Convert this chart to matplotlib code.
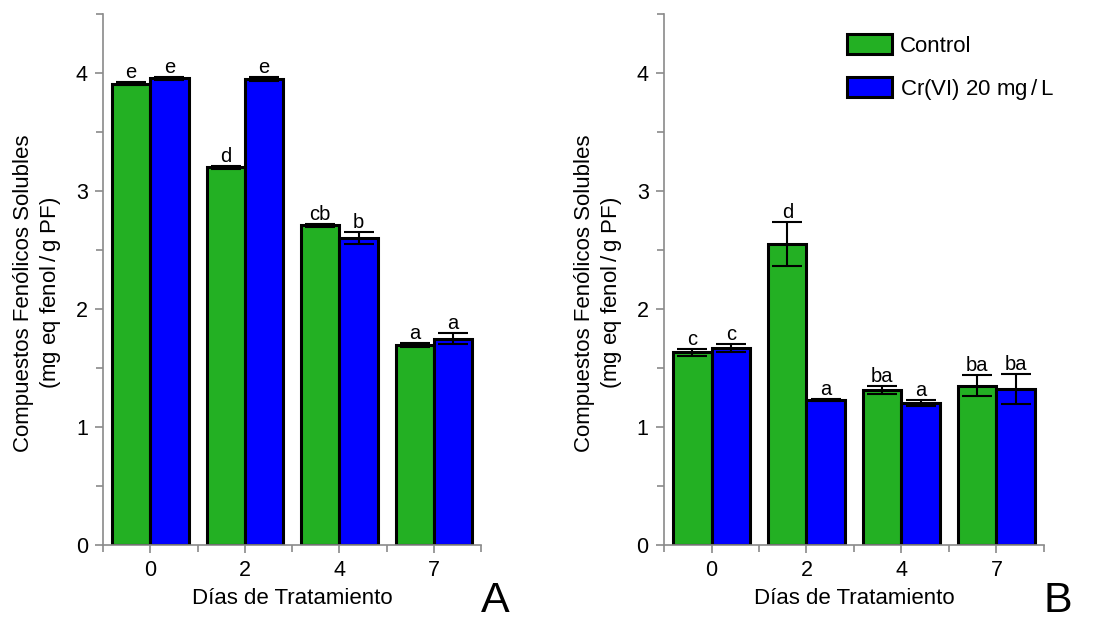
import matplotlib.pyplot as plt
from matplotlib.ticker import MultipleLocator, FixedLocator

plt.rcParams['font.family'] = ['Liberation Sans', 'DejaVu Sans']

dias = ['0', '2', '4', '7']
series = ['Control', 'Cr(VI) 20 mg$\\,$/$\\,$L']

# panel A
a_ctrl = [3.91, 3.20, 2.71, 1.695]
a_ctrl_err = [0.012, 0.012, 0.012, 0.015]
a_cr = [3.955, 3.95, 2.60, 1.75]
a_cr_err = [0.012, 0.02, 0.05, 0.048]
a_ctrl_lbl = ['e', 'd', 'cb', 'a']
a_cr_lbl = ['e', 'e', 'b', 'a']

# panel B
b_ctrl = [1.633, 2.55, 1.316, 1.35]
b_ctrl_err = [0.03, 0.185, 0.035, 0.09]
b_cr = [1.672, 1.229, 1.20, 1.322]
b_cr_err = [0.035, 0.008, 0.025, 0.13]
b_ctrl_lbl = ['c', 'd', 'ba', 'ba']
b_cr_lbl = ['c', 'a', 'a', 'ba']

verde = '#23B023'
azul = '#0000FF'
gris = '#8a8a8a'

fig = plt.figure(figsize=(11.01, 6.21), dpi=100)
axA = fig.add_axes([0.0936, 0.1224, 0.3435, 0.855])
axB = fig.add_axes([0.6031, 0.1224, 0.3451, 0.855])


def panel(ax, ctrl, ctrl_err, cr, cr_err, lbl1, lbl2, letra):
    x = range(len(dias))
    w = 0.405
    x1 = [i - w / 2 for i in x]
    x2 = [i + w / 2 for i in x]
    b1 = ax.bar(x1, ctrl, w, color=verde, edgecolor='black', linewidth=2.2,
                label=series[0], zorder=2)
    b2 = ax.bar(x2, cr, w, color=azul, edgecolor='black', linewidth=2.2,
                label=series[1], zorder=2)
    ax.errorbar(x1, ctrl, yerr=ctrl_err, fmt='none', ecolor='black',
                elinewidth=1.5, capsize=11, capthick=1.5, zorder=3)
    ax.errorbar(x2, cr, yerr=cr_err, fmt='none', ecolor='black',
                elinewidth=1.5, capsize=11, capthick=1.5, zorder=3)
    for xs, ys, es, ls in ((x1, ctrl, ctrl_err, lbl1), (x2, cr, cr_err, lbl2)):
        for xi, yi, ei, li in zip(xs, ys, es, ls):
            ax.text(xi, yi + ei, li, ha='center', va='bottom',
                    fontsize=14.5)

    ax.set_xlim(-0.5, 3.5)
    ax.set_ylim(0, 4.5)
    ax.xaxis.set_major_locator(FixedLocator(list(x)))
    ax.xaxis.set_minor_locator(FixedLocator([-0.5, 0.5, 1.5, 2.5, 3.5]))
    ax.set_xticklabels(dias)
    ax.yaxis.set_major_locator(MultipleLocator(1))
    ax.yaxis.set_minor_locator(MultipleLocator(0.5))
    for s in ('top', 'right'):
        ax.spines[s].set_visible(False)
    for s in ('left', 'bottom'):
        ax.spines[s].set_color(gris)
        ax.spines[s].set_linewidth(1.2)
    ax.tick_params(which='both', direction='out', color=gris, width=1.2,
                   labelsize=15.5)
    ax.tick_params(which='major', length=6, pad=5)
    ax.tick_params(which='minor', length=5)
    ax.set_xlabel('Días de Tratamiento', fontsize=16, labelpad=5)
    ax.set_ylabel('Compuestos Fenólicos Solubles\n(mg eq fenol$\\,$/$\\,$g PF)',
                  fontsize=16, linespacing=1.2)
    ax.yaxis.set_label_coords(-0.106, 0.475)
    ax.text(1.0, -0.126, letra, transform=ax.transAxes, fontsize=31,
            ha='left', va='baseline')
    return b1, b2


panel(axA, a_ctrl, a_ctrl_err, a_cr, a_cr_err, a_ctrl_lbl, a_cr_lbl, 'A')
panel(axB, b_ctrl, b_ctrl_err, b_cr, b_cr_err, b_ctrl_lbl, b_cr_lbl, 'B')

axB.legend(loc='upper left', bbox_to_anchor=(0.43, 1.0), frameon=False,
           fontsize=16, handlelength=2.0, handleheight=1.0, labelspacing=0.9,
           handletextpad=0.35)

fig.savefig('out.png', dpi=100)
